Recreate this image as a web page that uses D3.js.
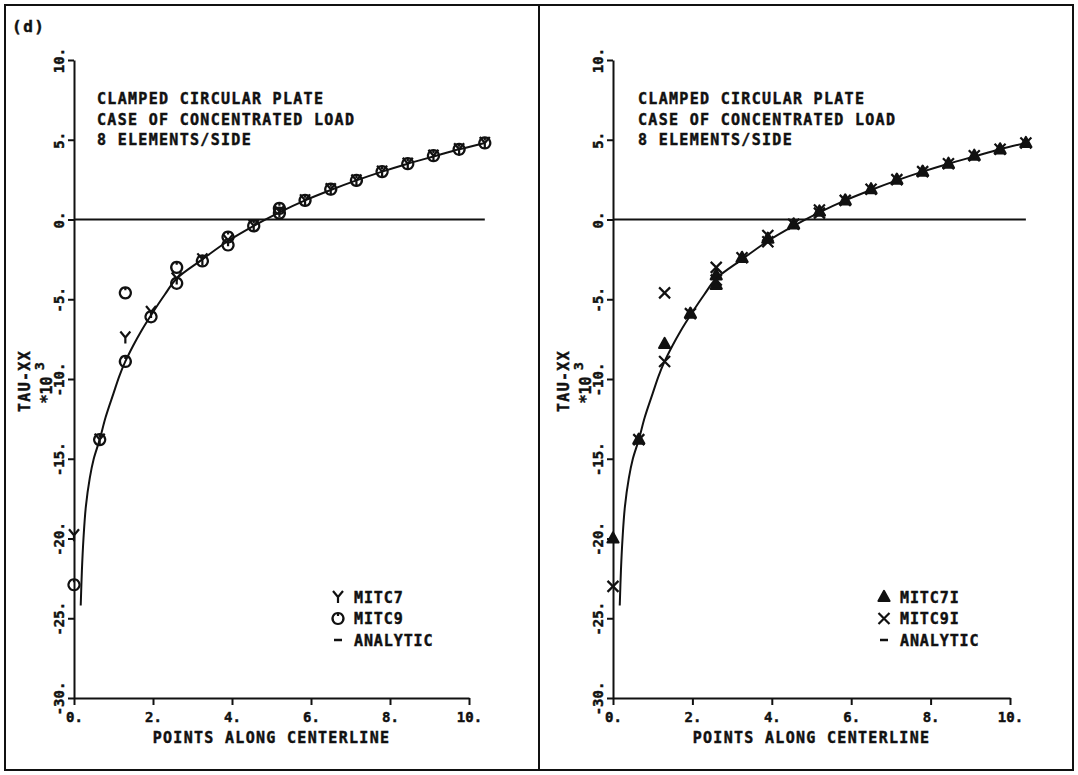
<!DOCTYPE html>
<html>
<head>
<meta charset="utf-8">
<script src="https://cdn.jsdelivr.net/npm/d3@7"></script>
<style>
  body { margin: 0; background: #fff; }
  text { font-family: "DejaVu Sans Mono", "Liberation Mono", monospace; font-weight: bold; fill: #111; stroke: #111; stroke-width: 0.45px; }
</style>
</head>
<body>
<svg class="js-graph"></svg>
<script>
/* <DATASET> */
var xTicks = [0, 2, 4, 6, 8, 10];
var yTicks = [10, 5, 0, -5, -10, -15, -20, -25, -30];
var titleLines = ['CLAMPED CIRCULAR PLATE', 'CASE OF CONCENTRATED LOAD', '8 ELEMENTS/SIDE'];

// left panel
var mitc7X = [0, 0.65, 1.3, 1.95, 2.6, 3.25, 3.9, 4.55, 5.2, 5.85, 6.5, 7.15, 7.8, 8.45, 9.1, 9.75, 10.4];
var mitc7Y = [-19.8, -13.8, -7.4, -5.8, -3.7, -2.5, -1.3, -0.4, 0.5, 1.2, 1.9, 2.45, 3.0, 3.5, 4.0, 4.4, 4.8];
var mitc9X = [0, 0.65, 1.3, 1.3, 1.95, 2.6, 2.6, 3.25, 3.9, 3.9, 4.55, 5.2, 5.2, 5.85, 6.5, 7.15, 7.8, 8.45, 9.1, 9.75, 10.4];
var mitc9Y = [-22.9, -13.8, -4.6, -8.9, -6.1, -3.0, -4.0, -2.6, -1.1, -1.6, -0.4, 0.4, 0.7, 1.2, 1.9, 2.45, 3.0, 3.5, 4.0, 4.4, 4.8];

// right panel
var mitc7iX = [0, 0.65, 1.3, 1.95, 2.6, 2.6, 3.25, 3.9, 4.55, 5.2, 5.85, 6.5, 7.15, 7.8, 8.45, 9.1, 9.75, 10.4];
var mitc7iY = [-20.0, -13.8, -7.8, -5.9, -3.5, -4.1, -2.4, -1.2, -0.3, 0.5, 1.2, 1.9, 2.5, 3.0, 3.5, 4.0, 4.4, 4.8];
var mitc9iX = [0, 0.65, 1.3, 1.3, 1.95, 2.6, 2.6, 3.25, 3.9, 3.9, 4.55, 5.2, 5.2, 5.85, 6.5, 7.15, 7.8, 8.45, 9.1, 9.75, 10.4];
var mitc9iY = [-23.0, -13.8, -4.6, -8.9, -5.9, -3.0, -3.8, -2.4, -1.0, -1.4, -0.3, 0.4, 0.6, 1.2, 1.9, 2.5, 3.0, 3.5, 4.0, 4.4, 4.8];

// analytic curve (same on both panels)
var analyticX = [0.17, 0.2, 0.24, 0.3, 0.4, 0.5, 0.65, 0.8, 1.0, 1.15, 1.3, 1.5, 1.7, 1.95, 2.3, 2.6, 3.25, 3.9, 4.55, 5.2, 5.85, 6.5, 7.15, 7.8, 8.45, 9.1, 9.75, 10.4];
var analyticY = [-24.2, -22.0, -20.0, -18.0, -16.2, -15.0, -13.8, -12.4, -10.9, -9.8, -8.9, -7.9, -7.0, -6.0, -4.7, -3.7, -2.5, -1.35, -0.4, 0.45, 1.2, 1.85, 2.45, 3.0, 3.5, 3.95, 4.4, 4.8];
/* </DATASET> */

(function myModule(d3) {
  var W = 1078, H = 775;

  function zip(xs, ys) {
    return xs.map(function (x, i) { return { x: x, y: ys[i] }; });
  }

  // plotter style marker glyphs, centred on 0,0
  var markerPaths = {
    wye: 'M-5,-6L0,0L5,-6M0,0L0,6',
    cross: 'M-5.5,-5.5L5.5,5.5M-5.5,5.5L5.5,-5.5',
    triangle: 'M0,-6L5.5,4L-5.5,4Z',
    circle: 'M0,-5.5A5.5,5.5 0 1,1 -0.01,-5.5ZM0,-5.5L0,-2.5'
  };

  function drawMarker(sel, kind) {
    sel.append('path')
      .attr('d', markerPaths[kind])
      .attr('fill', kind === 'triangle' ? '#111' : 'none')
      .attr('stroke', '#111')
      .attr('stroke-width', 2.2)
      .attr('stroke-linejoin', 'round');
  }

  /* <PANEL> */
  function Panel(params) {
    Object.assign(this, params);
  }
  Panel.prototype = {
    render: function renderPanel(svg) {
      this.g = svg.append('g');
      this.xScale = d3.scaleLinear().domain([0, 10]).range([this.left, this.right]);
      this.yScale = d3.scaleLinear().domain([-30, 10]).range([698, 60]);
      this.appendAxises();
      this.appendZeroLine();
      this.appendAnalytic();
      this.series.forEach(this.appendSeries, this);
      this.appendTexts();
      this.appendLegend();
    },
    appendAxises: function createAxises() {
      var x = this.xScale, y = this.yScale;
      var xAxis = this.g.append('g')
        .attr('transform', 'translate(0,' + y(-30) + ')')
        .call(d3.axisBottom(x).tickValues(xTicks).tickSize(7).tickSizeOuter(0)
          .tickFormat(function (d) { return d + '.'; }));
      xAxis.selectAll('text')
        .attr('y', 19).attr('dy', '0.35em')
        .style('font-size', '14px');

      var yAxis = this.g.append('g')
        .attr('transform', 'translate(' + x(0) + ',0)')
        .call(d3.axisLeft(y).tickValues(yTicks).tickSize(6).tickSizeOuter(0)
          .tickFormat(function (d) { return d + '.'; }));
      yAxis.selectAll('text')
        .attr('x', null).attr('dy', '0.35em')
        .attr('text-anchor', 'middle')
        .attr('transform', 'translate(-15,0) rotate(-90)')
        .style('font-size', '14px');

      [xAxis, yAxis].forEach(function (a) {
        a.attr('font-family', null).attr('font-size', null);
        a.select('.domain').attr('stroke', '#111').attr('stroke-width', 2);
        a.selectAll('.tick line').attr('stroke', '#111').attr('stroke-width', 2);
      });
    },
    appendZeroLine: function createZeroLine() {
      this.g.append('line')
        .attr('x1', this.xScale(0))
        .attr('x2', this.xScale(d3.max(analyticX)))
        .attr('y1', this.yScale(0))
        .attr('y2', this.yScale(0))
        .attr('stroke', '#111')
        .attr('stroke-width', 2);
    },
    appendAnalytic: function createAnalytic() {
      var x = this.xScale, y = this.yScale;
      var line = d3.line()
        .x(function (d) { return x(d.x); })
        .y(function (d) { return y(d.y); })
        .curve(d3.curveCatmullRom);
      this.g.append('path')
        .attr('d', line(zip(analyticX, analyticY)))
        .attr('fill', 'none')
        .attr('stroke', '#111')
        .attr('stroke-width', 2);
    },
    appendSeries: function createSeries(s) {
      var x = this.xScale, y = this.yScale;
      this.g.append('g').selectAll('g')
        .data(zip(s.xs, s.ys))
        .join('g')
        .attr('transform', function (d) { return 'translate(' + x(d.x) + ',' + y(d.y) + ')'; })
        .each(function () { drawMarker(d3.select(this), s.kind); });
    },
    appendTexts: function createTexts() {
      var self = this;
      titleLines.forEach(function (t, i) {
        self.g.append('text')
          .attr('x', self.titleX)
          .attr('y', 104 + i * 20.5)
          .style('font-size', '15px')
          .style('letter-spacing', '1.3px')
          .text(t);
      });
      var mid = (this.xScale(0) + this.xScale(10)) / 2;
      this.g.append('text')
        .attr('x', mid).attr('y', 743)
        .attr('text-anchor', 'middle')
        .style('font-size', '15px')
        .style('letter-spacing', '1.3px')
        .text('POINTS ALONG CENTERLINE');

      var ax = this.xScale(0);
      this.g.append('text')
        .attr('transform', 'translate(' + (ax - 49) + ',381) rotate(-90)')
        .attr('text-anchor', 'middle').attr('dy', '0.35em')
        .style('font-size', '15px')
        .style('letter-spacing', '1.3px')
        .text('TAU-XX');
      this.g.append('text')
        .attr('transform', 'translate(' + (ax - 27) + ',390) rotate(-90)')
        .attr('text-anchor', 'middle').attr('dy', '0.35em')
        .style('font-size', '15px')
        .text('*10');
      this.g.append('text')
        .attr('transform', 'translate(' + (ax - 35) + ',366) rotate(-90)')
        .attr('text-anchor', 'middle').attr('dy', '0.35em')
        .style('font-size', '13px')
        .text('3');
    },
    appendLegend: function createLegend() {
      var self = this;
      this.legend.forEach(function (item, i) {
        var cy = 597 + i * 21.5;
        var row = self.g.append('g').attr('transform', 'translate(' + self.legendX + ',' + cy + ')');
        if (item.kind === 'line') {
          row.append('line')
            .attr('x1', -4).attr('x2', 4)
            .attr('stroke', '#111').attr('stroke-width', 2.5);
        } else {
          drawMarker(row, item.kind);
        }
        row.append('text')
          .attr('x', 16).attr('dy', '0.38em')
          .style('font-size', '15px')
          .style('letter-spacing', '0.9px')
          .text(item.label);
      });
    }
  };
  /* </PANEL> */

  window.addEventListener('load', function initChart() {
    var svg = d3.select('.js-graph').attr('width', W).attr('height', H);
    svg.append('rect').attr('width', W).attr('height', H).attr('fill', '#fff');

    // frame
    svg.append('rect')
      .attr('x', 5).attr('y', 5).attr('width', 1068).attr('height', 765)
      .attr('fill', 'none').attr('stroke', '#111').attr('stroke-width', 2);
    svg.append('line')
      .attr('x1', 539).attr('x2', 539).attr('y1', 5).attr('y2', 770)
      .attr('stroke', '#111').attr('stroke-width', 2);
    svg.append('text').attr('x', 12).attr('y', 32)
      .style('font-size', '16px')
      .style('letter-spacing', '1.5px')
      .text('(d)');

    new Panel({
      left: 74, right: 469, titleX: 97, legendX: 338,
      series: [
        { kind: 'circle', xs: mitc9X, ys: mitc9Y },
        { kind: 'wye', xs: mitc7X, ys: mitc7Y }
      ],
      legend: [
        { kind: 'wye', label: 'MITC7' },
        { kind: 'circle', label: 'MITC9' },
        { kind: 'line', label: 'ANALYTIC' }
      ]
    }).render(svg);

    new Panel({
      left: 613, right: 1010, titleX: 638, legendX: 884,
      series: [
        { kind: 'triangle', xs: mitc7iX, ys: mitc7iY },
        { kind: 'cross', xs: mitc9iX, ys: mitc9iY }
      ],
      legend: [
        { kind: 'triangle', label: 'MITC7I' },
        { kind: 'cross', label: 'MITC9I' },
        { kind: 'line', label: 'ANALYTIC' }
      ]
    }).render(svg);
  });
}(d3));
</script>
</body>
</html>
